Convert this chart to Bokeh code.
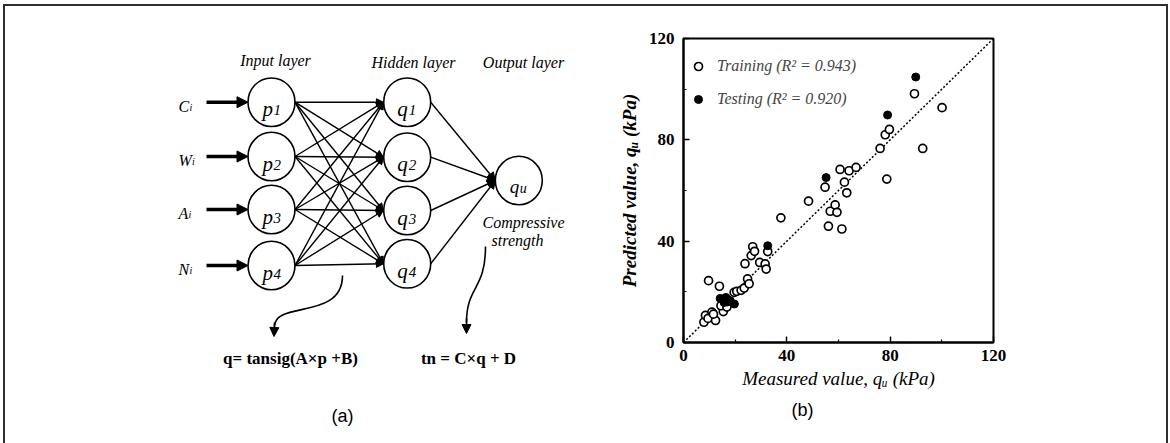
from bokeh.plotting import figure
from bokeh.models import (Range1d, ColumnDataSource, Arrow, NormalHead, Title,
                          FixedTicker, Legend, LegendItem)
from bokeh.layouts import row
from bokeh.core.properties import value
from bokeh.embed import file_html
from bokeh.resources import INLINE

# ---------------- data : panel (b) ----------------
train_x = [9.7, 13.9, 7.9, 8.5, 9.5, 11.0, 12.4, 11.6, 15.4, 14.5,
           16.8, 19.6, 20.6, 22.3, 23.5, 24.8, 25.4, 23.8, 26.2, 26.8,
           27.5, 29.5, 31.6, 32.0, 32.6, 37.7, 48.4, 54.8, 56.1, 56.8,
           58.7, 59.4, 61.3, 60.6, 62.3, 63.2, 64.1, 66.8, 76.1, 78.1,
           79.7, 78.7, 89.4, 92.6, 100.1]
train_y = [24.4, 22.2, 8.0, 10.7, 9.5, 12.0, 8.7, 11.2, 12.2, 14.5,
           14.0, 19.8, 20.2, 20.6, 21.5, 25.1, 23.2, 31.1, 34.3, 37.8,
           36.0, 31.6, 31.0, 29.0, 35.9, 49.2, 55.8, 61.3, 45.9, 51.8,
           54.3, 51.4, 44.8, 68.3, 63.3, 59.1, 67.8, 69.1, 76.6, 82.0,
           84.1, 64.5, 98.2, 76.6, 92.7]
test_x = [89.9, 79.0, 55.2, 32.6, 14.2, 16.4, 15.7, 19.7, 18.1, 17.0]
test_y = [104.8, 89.8, 65.1, 38.2, 17.4, 17.8, 15.8, 15.2, 16.5, 16.0]
axis_ticks = [0, 40, 80, 120]
minor_ticks = [20, 60, 100]
train_label = "Training (R\u00b2 = 0.943)"
test_label = "Testing (R\u00b2 = 0.920)"
x_title = "Measured value, q\u1d64 (kPa)"
y_title = "Predicted value, q\u1d64 (kPa)"
panel_b = "(b)"

# ---------------- content : panel (a) ----------------
input_letters = ["C", "W", "A", "N"]
input_sub = ["i", "i", "i", "i"]
node_digits = ["1", "2", "3", "4"]
layer_titles = ["Input layer", "Hidden layer", "Output layer"]
output_name = ["q", "u"]
output_caption = ["Compressive", "strength"]
formula_hidden = "q= tansig(A\u00d7p +B)"
formula_output = "tn = C\u00d7q + D"
panel_a = "(a)"

SERIF = "Liberation Serif"
FRAME = "2px solid #2e2e2e"

# ================= figure (a): network diagram =================
pa = figure(width=595, height=437, x_range=Range1d(5, 600), y_range=Range1d(443, 6),
            output_backend="svg", toolbar_location=None, min_border=0,
            x_axis_location=None, y_axis_location=None)
pa.grid.visible = False
pa.outline_line_color = None
pa.background_fill_color = "white"
pa.border_fill_color = "white"
pa.frame_align = False

in_x, hid_x, out_x, out_y = 271, 406.7, 518.3, 180
in_y = [101.7, 156, 209, 265]
hid_y = [101.7, 156.7, 210, 263.3]
R = 23.5

# connections input -> hidden
x0, y0, x1, y1 = [], [], [], []
for yi in in_y:
    for yj in hid_y:
        x0.append(in_x + R); y0.append(yi); x1.append(hid_x - R - 0.3); y1.append(yj)
pa.add_layout(Arrow(end=NormalHead(size=7, fill_color="black", line_color="black", line_width=1),
                    source=ColumnDataSource(dict(x0=x0, y0=y0, x1=x1, y1=y1)),
                    x_start="x0", y_start="y0", x_end="x1", y_end="y1",
                    line_width=1.4, line_color="black"))
# hidden -> output
pa.add_layout(Arrow(end=NormalHead(size=8, fill_color="black", line_color="black", line_width=1),
                    source=ColumnDataSource(dict(x0=[hid_x + R] * 4, y0=hid_y,
                                                 x1=[out_x - R] * 4, y1=[out_y] * 4)),
                    x_start="x0", y_start="y0", x_end="x1", y_end="y1",
                    line_width=1.4, line_color="black"))
# input arrows
pa.add_layout(Arrow(end=NormalHead(size=11, fill_color="black", line_color="black", line_width=1),
                    source=ColumnDataSource(dict(x0=[206] * 4, y0=in_y,
                                                 x1=[in_x - R] * 4, y1=in_y)),
                    x_start="x0", y_start="y0", x_end="x1", y_end="y1",
                    line_width=3.5, line_color="black"))

# nodes
pa.ellipse(x=[in_x] * 4 + [hid_x] * 4 + [out_x], y=in_y + hid_y + [out_y],
           width=2 * R, height=2 * R + 1.5, fill_color="white", line_color="black", line_width=1.6)

tkw = dict(text_font=value(SERIF), text_font_style="italic", text_color="black")
# node labels
pa.text(x=[in_x - 9] * 4, y=[y + 7 for y in in_y], text=["p"] * 4,
        text_font_size="21px", text_align="left", text_baseline="alphabetic", **tkw)
pa.text(x=[in_x + 2] * 4, y=[y + 8 for y in in_y], text=node_digits,
        text_font_size="15px", text_align="left", text_baseline="alphabetic", **tkw)
pa.text(x=[hid_x - 10] * 4, y=[y + 7 for y in hid_y], text=["q"] * 4,
        text_font_size="21px", text_align="left", text_baseline="alphabetic", **tkw)
pa.text(x=[hid_x + 1.5] * 4, y=[y + 8 for y in hid_y], text=node_digits,
        text_font_size="15px", text_align="left", text_baseline="alphabetic", **tkw)
pa.text(x=[out_x - 9], y=[out_y + 6], text=[output_name[0]],
        text_font_size="19px", text_align="left", text_baseline="alphabetic", **tkw)
pa.text(x=[out_x + 1], y=[out_y + 8], text=[output_name[1]],
        text_font_size="14px", text_align="left", text_baseline="alphabetic", **tkw)

# input labels
pa.text(x=[178] * 4, y=[y + 4 for y in in_y], text=input_letters,
        text_font_size="16px", text_align="left", text_baseline="alphabetic", **tkw)
pa.text(x=[189, 191.5, 188, 189], y=[y + 5 for y in in_y], text=input_sub,
        text_font_size="10px", text_align="left", text_baseline="alphabetic", **tkw)

# layer titles and captions
pa.text(x=[275, 413, 523], y=[60, 62, 62], text=layer_titles,
        text_font_size="16px", text_align="center", text_baseline="middle", **tkw)
pa.text(x=[523, 517], y=[222, 240], text=output_caption,
        text_font_size="16px", text_align="center", text_baseline="middle", **tkw)

# curved pointer arrows
pa.bezier(x0=[342, 485], y0=[275, 246], x1=[274, 466], y1=[326, 322],
          cx0=[342, 485], cy0=[320, 290], cx1=[274, 466], cy1=[300, 285],
          line_color="black", line_width=1.6)
pa.add_layout(Arrow(end=NormalHead(size=9, fill_color="black", line_color="black", line_width=1),
                    source=ColumnDataSource(dict(x0=[274, 466], y0=[322, 318],
                                                 x1=[273.5, 466], y1=[336, 333])),
                    x_start="x0", y_start="y0", x_end="x1", y_end="y1",
                    line_width=1.6, line_color="black"))

# formulas
pa.text(x=[290, 468], y=[358, 358], text=[formula_hidden, formula_output],
        text_font=value(SERIF), text_font_style="bold", text_font_size="17px",
        text_align="center", text_baseline="middle", text_color="black")
pa.text(x=[342], y=[415], text=[panel_a], text_font=value("Liberation Sans"),
        text_font_size="18px", text_align="center", text_baseline="middle", text_color="black")

# ================= figure (b): scatter =================
pb = figure(width=566, height=437, x_range=Range1d(0, 120), y_range=Range1d(0, 120),
            output_backend="svg", toolbar_location=None,
            min_border_left=83, min_border_right=173, min_border_top=32, min_border_bottom=101)
pb.frame_align = False
pb.grid.visible = False
pb.outline_line_color = "black"
pb.outline_line_width = 2
pb.outline_line_alpha = 1
pb.background_fill_color = "white"
pb.border_fill_color = "white"

for ax in (pb.xaxis[0], pb.yaxis[0]):
    ax.ticker = FixedTicker(ticks=axis_ticks, minor_ticks=minor_ticks)
    ax.major_tick_in = 6
    ax.major_tick_out = 0
    ax.minor_tick_in = 3
    ax.minor_tick_out = 0
    ax.axis_line_width = 2
    ax.major_tick_line_width = 1.5
    ax.minor_tick_line_width = 1.2
    ax.major_label_text_font = SERIF
    ax.major_label_text_font_style = "bold"
    ax.major_label_text_font_size = "17px"
    ax.major_label_text_color = "black"
    ax.axis_label_text_font = SERIF
    ax.axis_label_text_font_size = "19px"
    ax.axis_label_text_color = "black"
pb.xaxis.axis_label = x_title
pb.yaxis.axis_label = y_title
pb.xaxis.axis_label_text_font_style = "italic"
pb.yaxis.axis_label_text_font_style = "bold italic"
pb.xaxis.major_label_standoff = 7
pb.yaxis.major_label_standoff = 9
pb.xaxis.axis_label_standoff = 4
pb.yaxis.axis_label_standoff = 6

diag = [axis_ticks[0], axis_ticks[-1]]
pb.line(diag, diag, line_color="black", line_width=1.5, line_dash="2 2")

r_train = pb.scatter(train_x, train_y, marker="circle", size=8, fill_color="white",
                     line_color="black", line_width=1.7)
r_test = pb.scatter(test_x, test_y, marker="circle", size=8, fill_color="black",
                    line_color="black", line_width=1)

legend = Legend(items=[LegendItem(label=train_label, renderers=[r_train]),
                       LegendItem(label=test_label, renderers=[r_test])],
                location=(5, 233), padding=0, margin=0, spacing=13,
                glyph_width=20, glyph_height=20, label_height=20, label_standoff=9,
                border_line_alpha=0, background_fill_alpha=0,
                label_text_font=SERIF, label_text_font_style="italic",
                label_text_font_size="16px", label_text_baseline="middle")
pb.add_layout(legend)

pb.add_layout(Title(text=panel_b, align="left", offset=108, standoff=12,
                    text_font="Liberation Sans", text_font_size="18px",
                    text_font_style="normal", text_color="black"), "below")

layout = row(pa, pb, styles={"margin-left": "3px", "margin-top": "4px",
                             "border-left": FRAME, "border-top": FRAME,
                             "border-right": FRAME})
open("out.html", "w").write(file_html(layout, INLINE))
